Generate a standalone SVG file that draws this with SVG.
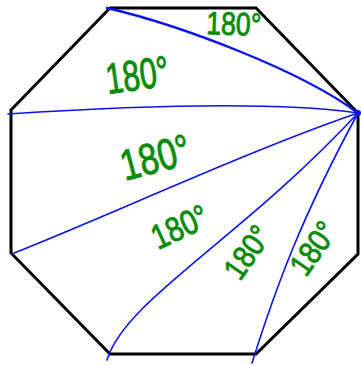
<svg xmlns="http://www.w3.org/2000/svg" width="361" height="365" viewBox="0 0 361 365">
<style>
.edge{fill:none;stroke:#000;stroke-width:3;stroke-linejoin:miter}
.diag{fill:none;stroke:#0a14f0;stroke-width:1.6;stroke-linecap:round}
.lbl{fill:#0a8c0a;font-family:"Liberation Sans","DejaVu Sans",sans-serif;stroke:#0a8c0a;stroke-width:0.8}
</style>
<rect width="361" height="365" fill="#fff"/>
<g id="octagon">
<polygon class="edge" points="110,8 256,8 358,113 358,254 256,354 110,354 11,253 11,110"/>
</g>
<g id="diagonals">
<path class="diag" d="M107,8 C180,25 300,70 358,113" style="stroke-width:2.4"/>
<path class="diag" d="M8,114 C100,108 260,99 358,113"/>
<path class="diag" d="M14,253 C110,215 250,150 358,113"/>
<path class="diag" d="M107,360 C125,300 240,240 358,113"/>
<path class="diag" d="M252,363 C275,290 300,220 358,113"/>
<circle cx="358" cy="113" r="3" fill="#0a14f0"/>
</g>
<g id="labels">
<text class="lbl" font-size="28" transform="translate(206,34) rotate(2) scale(0.95,1.15)">180°</text>
<text class="lbl" font-size="36" transform="translate(108,94) rotate(-8) scale(0.85,1.2)">180°</text>
<text class="lbl" font-size="38" transform="translate(125,181) rotate(-15) scale(0.9,1.15)">180°</text>
<text class="lbl" font-size="30" transform="translate(158,250) rotate(-25) scale(0.95,1.15)">180°</text>
<text class="lbl" font-size="29" transform="translate(240,282) rotate(-55) scale(0.95,1.1)">180°</text>
<text class="lbl" font-size="29" transform="translate(306,278) rotate(-55) scale(0.95,1.1)">180°</text>
</g>
</svg>
